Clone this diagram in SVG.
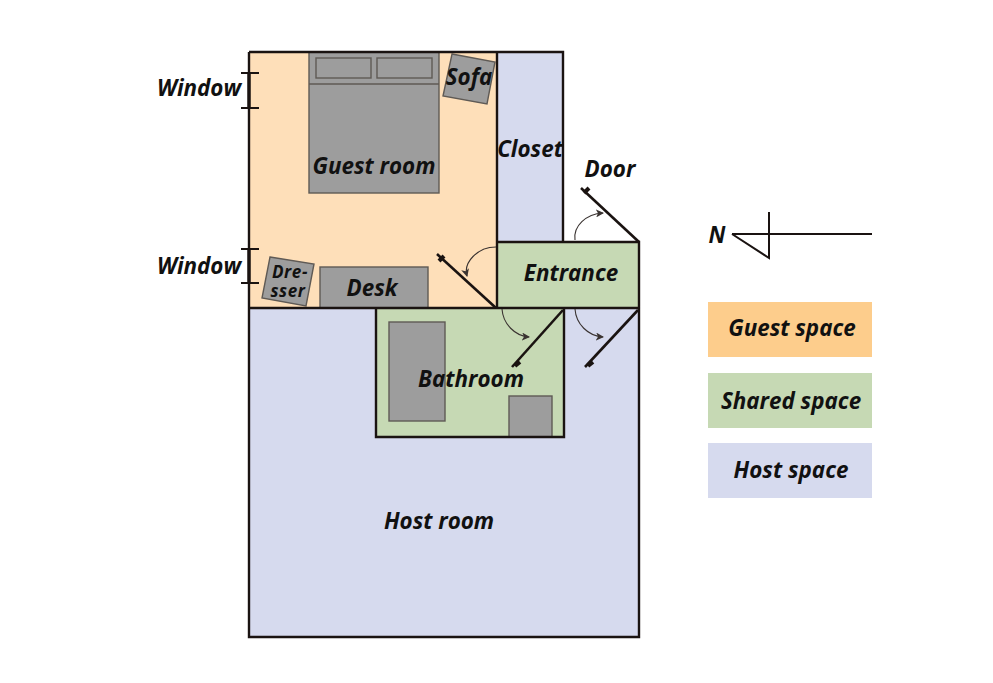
<svg xmlns="http://www.w3.org/2000/svg" width="993" height="683" viewBox="0 0 993 683">
<style>
.wall{stroke:#1a1311;stroke-width:2.4;fill:none}
.guest{fill:#fedfb9}.shared{fill:#c6d9b4}.host{fill:#d6daee}
.furn{fill:#9d9d9d;stroke:#5f5a55;stroke-width:1.4}
.door{stroke:#1a1311;stroke-width:2.6;fill:none}
.knob{stroke:#1a1311;stroke-width:4;fill:none}
.swing{stroke:#3a3331;stroke-width:1.1;fill:none;marker-end:url(#ah)}
.tick{stroke:#1a1311;stroke-width:2.2;fill:none}
text{font-family:"Open Sans","Noto Sans",sans-serif;font-style:italic;font-weight:700;font-size:22.4px;fill:#111;text-anchor:middle}
</style>
<defs>
<marker id="ah" viewBox="0 0 8 8" refX="7" refY="4" markerWidth="8" markerHeight="8" orient="auto" markerUnits="userSpaceOnUse"><path d="M0 0L8 4L0 8L2 4Z" fill="#3a3331"/></marker>
</defs>
<rect width="993" height="683" fill="#fff"/>
<g id="guest-room"><rect class="guest" x="249" y="52" width="248" height="256"/></g>
<g id="closet"><rect class="host" x="497" y="52" width="66" height="190"/></g>
<g id="host-room"><rect class="host" x="249" y="308" width="390" height="329"/></g>
<g id="bathroom-room"><rect class="shared" x="376" y="308" width="188" height="129"/></g>
<g id="entrance-room"><rect class="shared" x="497" y="242" width="142" height="66"/></g>
<g id="bed">
<rect class="furn" x="309" y="52" width="130" height="141"/>
<line x1="309" y1="84" x2="439" y2="84" stroke="#5f5a55" stroke-width="1.4"/>
<rect class="furn" x="316" y="58" width="55" height="20"/>
<rect class="furn" x="377" y="58" width="55" height="20"/>
</g>
<g id="sofa"><polygon class="furn" points="452,54 495,62 487,104 443,96"/></g>
<g id="dresser"><polygon class="furn" points="270,257 314,264 306,306 262,298"/></g>
<g id="desk"><rect class="furn" x="320" y="267" width="108" height="41"/></g>
<g id="tub"><rect class="furn" x="389" y="322" width="56" height="99"/></g>
<g id="toilet"><rect class="furn" x="509" y="396" width="43" height="41"/></g>
<g id="walls">
<path class="wall" d="M249 52H563V242M497 52V308M249 52V637H639V242H497M249 308H639M376 308V437H564V308"/>
</g>
<g id="connectors">
<path class="tick" d="M241 73H259M241 108H259M241 249H259M241 283H259"/>
<path d="M249 73V108M249 249V283" stroke="#1a1311" stroke-width="3.4" fill="none"/>
<path class="door" d="M496 308L437 254"/><path class="knob" d="M439 261L444 256"/>
<path class="door" d="M639 242L581 188"/><path class="knob" d="M584 193L589 188"/>
<path class="door" d="M563 310L512 367"/><path class="knob" d="M515 366L520 362"/>
<path class="door" d="M638 310L585 367"/><path class="knob" d="M588 366L593 362"/>
<path class="swing" d="M496 247C478 247 463 262 467 276"/>
<path class="swing" d="M575 240C573 226 586 214 603 213"/>
<path class="swing" d="M502 309C503 324 515 336 529 337"/>
<path class="swing" d="M575 309C576 324 588 336 603 337"/>
<path d="M732 234H872M769 212V258L732 234" stroke="#1a1311" stroke-width="2" fill="none"/>
</g>
<g id="labels">
<text x="199" y="96" font-size="21">Window</text>
<text x="199" y="274" font-size="21">Window</text>
<text x="374" y="174">Guest room</text>
<text x="469" y="85">Sofa</text>
<text x="530" y="157">Closet</text>
<text x="610" y="177">Door</text>
<text x="571" y="281">Entrance</text>
<text x="372" y="296">Desk</text>
<text x="471" y="387">Bathroom</text>
<text x="439" y="529">Host room</text>
<text style="font-size:17px;letter-spacing:.6px"><tspan x="290" y="278">Dre-</tspan><tspan x="288" y="297">sser</tspan></text>
<text x="717" y="243">N</text>
</g>
<g id="legend-guest"><rect x="708" y="302" width="164" height="55" fill="#fdcd8c"/><text x="792" y="336">Guest space</text></g>
<g id="legend-shared"><rect x="708" y="373" width="164" height="55" fill="#c6d9b4"/><text x="791" y="409">Shared space</text></g>
<g id="legend-host"><rect x="708" y="443" width="164" height="55" fill="#d6daee"/><text x="791" y="478">Host space</text></g>
</svg>
